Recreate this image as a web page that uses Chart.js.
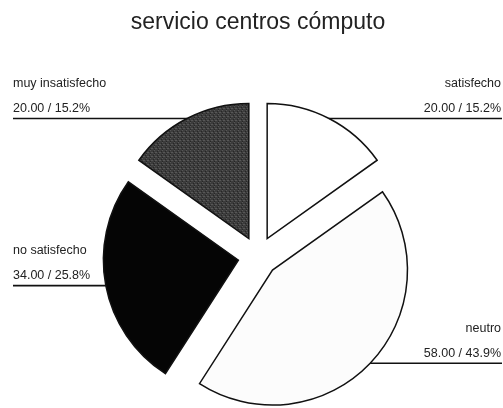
<!DOCTYPE html>
<html>
<head>
<meta charset="utf-8">
<script src="https://cdn.jsdelivr.net/npm/chart.js@4"></script>
<style>
  html, body { margin: 0; padding: 0; background: #fff; }
  canvas { display: block; }
</style>
</head>
<body>
<canvas id="pieChart" width="503" height="408"></canvas>
<script>
// responses per level of satisfaction
const categories = ["satisfecho", "neutro", "no satisfecho", "muy insatisfecho"];
const counts = [20, 58, 34, 20];

const total = counts.reduce((a, b) => a + b, 0);
const percents = counts.map((v) => ((v / total) * 100).toFixed(1));

// small grainy dark-gray fill for the last slice
const makeTexture = () => {
    const c = document.createElement("canvas");
    c.width = 4;
    c.height = 4;
    const g = c.getContext("2d");
    g.fillStyle = "#3c3c3c";
    g.fillRect(0, 0, 4, 4);
    g.fillStyle = "#575757";
    g.fillRect(0, 0, 1, 1);
    g.fillRect(2, 2, 1, 1);
    g.fillRect(3, 0, 1, 1);
    g.fillStyle = "#262626";
    g.fillRect(1, 3, 1, 1);
    g.fillRect(2, 1, 1, 1);
    return g.createPattern(c, "repeat");
};

const EXPLODE = 20;
const FONT = '12.5px "Liberation Sans", Arial, sans-serif';

// push every slice outward along its middle angle
const explodePlugin = {
    id: "explode",
    afterDatasetsUpdate(chart) {
        chart.getDatasetMeta(0).data.forEach((arc) => {
            const mid = (arc.startAngle + arc.endAngle) / 2;
            arc.x += Math.cos(mid) * EXPLODE;
            arc.y += Math.sin(mid) * EXPLODE;
        });
    },
};

// horizontal leader lines with name and "value / percent" above them
const leaderPlugin = {
    id: "leaders",
    afterDatasetsDraw(chart) {
        const ctx = chart.ctx;
        const arcs = chart.getDatasetMeta(0).data;
        ctx.save();
        ctx.font = FONT;
        ctx.fillStyle = "#222";
        ctx.strokeStyle = "#111";
        ctx.lineWidth = 1.6;
        ctx.textBaseline = "middle";
        arcs.forEach((arc, i) => {
            const mid = (arc.startAngle + arc.endAngle) / 2;
            const px = arc.x + Math.cos(mid) * arc.outerRadius;
            const py = arc.y + Math.sin(mid) * arc.outerRadius;
            const right = Math.cos(mid) >= 0;
            const endX = right ? 502 : 13;
            ctx.beginPath();
            ctx.moveTo(px, py);
            ctx.lineTo(endX, py);
            ctx.stroke();
            ctx.textAlign = right ? "right" : "left";
            const tx = right ? 501 : 13;
            ctx.fillText(categories[i], tx, py - 35);
            ctx.fillText(counts[i].toFixed(2) + " / " + percents[i] + "%", tx, py - 10);
        });
        ctx.restore();
    },
};

const ctx = document.getElementById("pieChart").getContext("2d");

new Chart(ctx, {
    type: "pie",
    data: {
        labels: categories,
        datasets: [
            {
                data: counts,
                backgroundColor: ["#ffffff", "#fcfcfc", "#050505", makeTexture()],
                borderColor: "#111",
                borderWidth: 1.5,
                borderJoinStyle: "miter",
            },
        ],
    },
    options: {
        responsive: false,
        animation: false,
        radius: 135,
        layout: {
            padding: { left: 13, right: 0, top: 0, bottom: 0 },
        },
        plugins: {
            legend: { display: false },
            tooltip: { enabled: false },
            title: {
                display: true,
                text: "servicio centros cómputo",
                color: "#222",
                font: { family: '"Liberation Sans", Arial, sans-serif', size: 23, weight: "normal" },
                padding: { top: 9, bottom: 68 },
            },
        },
    },
    plugins: [explodePlugin, leaderPlugin],
});
</script>
</body>
</html>
